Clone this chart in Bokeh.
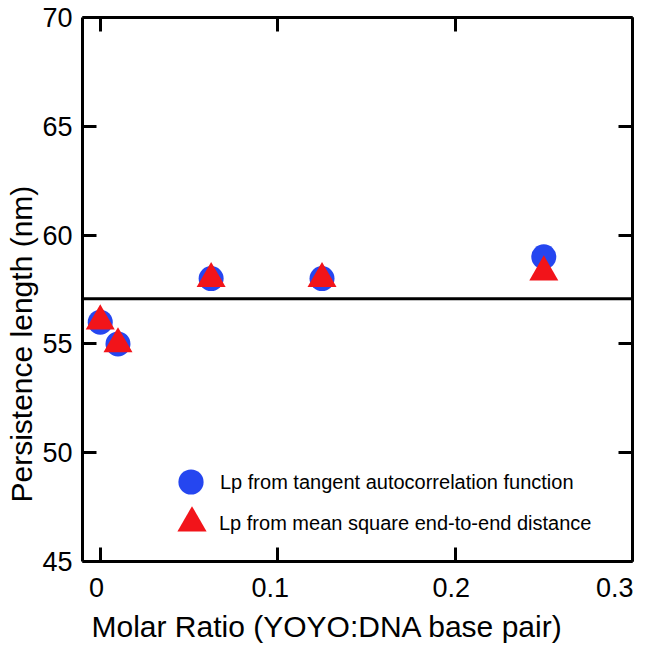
from bokeh.plotting import figure
from bokeh.models import (Range1d, LinearAxis, FixedTicker, Span, Legend,
                          LegendItem, Label, Title)
from bokeh.embed import file_html
from bokeh.resources import INLINE

# ---- data ----
molar_ratio = [0.0, 0.01, 0.0625, 0.125, 0.25]
lp_tangent = [56.0, 55.0, 58.0, 58.0, 59.0]
lp_msd = [56.05, 55.0, 58.0, 58.0, 58.3]
reference_lp = 57.07
x_ticks = [0, 0.1, 0.2, 0.3]
x_tick_labels = ["0\u00a0", "0.1\u00a0\u00a0", "0.2\u00a0", "0.3\u00a0\u00a0"]
y_ticks = [45, 50, 55, 60, 65, 70]
label_tangent = "Lp from tangent autocorrelation function"
label_msd = "Lp from mean square end-to-end distance"
x_title = "Molar Ratio (YOYO:DNA base pair)"
y_title = "Persistence length (nm)"

FONT = "Liberation Sans"
BLUE = "#2546f0"
RED = "#f2141a"

W, H = 648, 647
p = figure(width=W, height=H, output_backend="svg", toolbar_location=None,
           x_range=Range1d(-0.01, 0.3), y_range=Range1d(45, 70),
           min_border_left=80, min_border_right=16, min_border_top=17,
           min_border_bottom=86)
p.grid.visible = False
p.outline_line_color = None
p.background_fill_color = "white"
p.border_fill_color = "white"

bottom = p.below[0]
left = p.left[0]

p.add_layout(Span(location=reference_lp, dimension="width",
                  line_color="black", line_width=3))

r1 = p.scatter(molar_ratio, lp_tangent, marker="circle", size=25,
               fill_color=BLUE, line_color=None)
r2 = p.scatter(molar_ratio, lp_msd, marker="triangle", size=29,
               fill_color=RED, line_color=None)

top = LinearAxis()
right = LinearAxis()
p.add_layout(top, "above")
p.add_layout(right, "right")

for ax in [bottom, top]:
    ax.ticker = FixedTicker(ticks=x_ticks)
for ax in [left, right]:
    ax.ticker = FixedTicker(ticks=y_ticks)

bottom.major_label_overrides = {t: s for t, s in zip(x_ticks, x_tick_labels)}

for ax in [bottom, left, top, right]:
    ax.axis_line_width = 3
    ax.axis_line_color = "black"
    ax.major_tick_in = 14
    ax.major_tick_out = 0
    ax.major_tick_line_width = 3
    ax.major_tick_line_color = "black"
    ax.minor_tick_line_color = None
    ax.major_label_text_font = FONT
    ax.major_label_text_font_size = "27px"
    ax.major_label_text_color = "black"

for ax in [top, right]:
    ax.major_label_text_font_size = "1px"
    ax.major_label_text_color = None
    ax.major_label_standoff = 0

bottom.major_label_standoff = 11
left.major_label_standoff = 10

# axis titles as side-panel titles
xt = Title(text=x_title, align="left", offset=9, standoff=4,
           text_font=FONT, text_font_size="30px", text_font_style="normal",
           text_color="black")
yt = Title(text=y_title, align="left", offset=59, standoff=4,
           text_font=FONT, text_font_size="30px", text_font_style="normal",
           text_color="black")
p.add_layout(xt, "below")
p.add_layout(yt, "left")

# legend keys (labels drawn as text annotations beside them)
common = dict(padding=0, margin=0, border_line_color=None,
              background_fill_alpha=0, label_text_font=FONT,
              label_text_font_size="20px", label_text_color=None)
leg1 = Legend(items=[LegendItem(label=label_tangent, renderers=[r1])],
              location=(76.5, 48), glyph_width=63, glyph_height=63, **common)
leg2 = Legend(items=[LegendItem(label=label_msd, renderers=[r2])],
              location=(72.5, 2.5), glyph_width=73, glyph_height=73, **common)
p.add_layout(leg1)
p.add_layout(leg2)

for txt, lx, ly in [(label_tangent, 137.5, 80), (label_msd, 136.5, 39)]:
    p.add_layout(Label(x=lx, y=ly, x_units="screen", y_units="screen",
                       text=txt, text_font=FONT, text_font_size="20px",
                       text_color="black", text_align="left",
                       text_baseline="middle"))

open("out.html", "w").write(file_html(p, INLINE))
